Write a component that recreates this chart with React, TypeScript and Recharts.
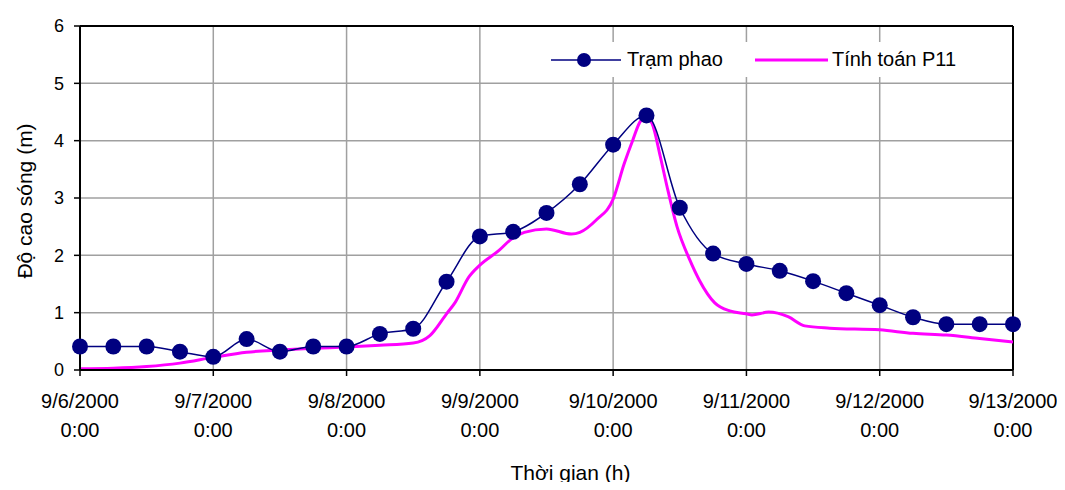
import {
  CartesianGrid,
  Label,
  Legend,
  Line,
  LineChart,
  ReferenceLine,
  XAxis,
  YAxis,
} from 'recharts'

// hours since 9/6/2000 0:00
const obsHours = [
  0, 6, 12, 18, 24, 30, 36, 42, 48, 54, 60, 66, 72, 78, 84, 90, 96, 102, 108, 114, 120, 126, 132, 138,
  144, 150, 156, 162, 168,
]
const obsHeights = [
  0.41, 0.41, 0.41, 0.32, 0.23, 0.54, 0.32, 0.41, 0.41, 0.63, 0.72, 1.54, 2.33, 2.41, 2.74, 3.24, 3.93,
  4.44, 2.83, 2.03, 1.85, 1.73, 1.55, 1.34, 1.13, 0.92, 0.8, 0.8, 0.8,
]

const calcHours = [
  0, 6, 12, 18, 24, 30, 36, 42, 48, 54, 60, 63, 66, 67.5, 70, 72, 75.5, 77.5, 80, 84, 88.5, 90, 93, 96,
  98, 99.5, 101, 102, 103, 104.5, 105.7, 107.5, 109.8, 111.5, 114.3, 117, 120, 121, 124, 127.5, 130.5,
  135, 144, 150, 156, 162, 168,
]
const calcHeights = [
  0.02, 0.03, 0.06, 0.12, 0.22, 0.31, 0.35, 0.38, 0.4, 0.43, 0.47, 0.6, 0.98, 1.17, 1.62, 1.83, 2.09,
  2.27, 2.4, 2.46, 2.37, 2.4, 2.62, 2.98, 3.6, 4.0, 4.35, 4.4, 4.3, 3.72, 3.2, 2.5, 1.92, 1.57, 1.17,
  1.03, 0.98, 0.96, 1.01, 0.93, 0.77, 0.73, 0.7, 0.64, 0.61, 0.55, 0.49,
]

const dayTicks = [0, 24, 48, 72, 96, 120, 144, 168]
const dayLabels = ['9/6/2000', '9/7/2000', '9/8/2000', '9/9/2000', '9/10/2000', '9/11/2000', '9/12/2000', '9/13/2000']
const timeLabel = '0:00'
const yTicks = [0, 1, 2, 3, 4, 5, 6]

const obsData = obsHours.map((h, i) => ({ h, v: obsHeights[i] }))
const calcData = calcHours.map((h, i) => ({ h, v: calcHeights[i] }))

const FONT = 'Arial, "Liberation Sans", sans-serif'
const NAVY = '#000080'
const MAGENTA = '#ff00ff'

function DayTick(props: any) {
  const { x, y, index } = props
  return (
    <g>
      <text x={x} y={y} dy={32} textAnchor="middle" fontSize={20} fontFamily={FONT} fill="#000">
        {dayLabels[index]}
      </text>
      <text x={x} y={y} dy={61} textAnchor="middle" fontSize={20} fontFamily={FONT} fill="#000">
        {timeLabel}
      </text>
    </g>
  )
}

function LegendBox() {
  return (
    <div
      style={{
        background: '#fff',
        height: 35,
        display: 'flex',
        alignItems: 'center',
        fontFamily: FONT,
        fontSize: 20,
        color: '#000',
        paddingLeft: 6,
        boxSizing: 'border-box',
      }}
    >
      <svg width={70} height={18}>
        <line x1={0} y1={9} x2={70} y2={9} stroke={NAVY} strokeWidth={1.5} />
        <circle cx={33} cy={9} r={7} fill={NAVY} />
      </svg>
      <span style={{ marginLeft: 6 }}>Trạm phao</span>
      <svg width={73} height={18} style={{ marginLeft: 32 }}>
        <line x1={0} y1={9} x2={73} y2={9} stroke={MAGENTA} strokeWidth={3} />
      </svg>
      <span style={{ marginLeft: 4 }}>Tính toán P11</span>
    </div>
  )
}

export default function App() {
  return (
    <div style={{ position: 'relative', width: 1065, height: 490, margin: -8, overflow: 'hidden', background: '#fff' }}>
      <LineChart width={1065} height={490} margin={{ top: 26, right: 52, bottom: 0, left: 20 }}>
        <CartesianGrid stroke="#a0a0a0" strokeWidth={1.5} />
        <XAxis
          dataKey="h"
          type="number"
          domain={[0, 168]}
          ticks={dayTicks}
          height={120}
          tickSize={6}
          tickMargin={0}
          tick={<DayTick />}
          axisLine={{ stroke: '#000', strokeWidth: 2 }}
          tickLine={{ stroke: '#000', strokeWidth: 1.5 }}
          allowDuplicatedCategory={false}
        >
          <Label
            content={(p: any) => {
              const vb = p.viewBox
              return (
                <text
                  x={vb.x + vb.width / 2 + 24}
                  y={480}
                  textAnchor="middle"
                  fontSize={21}
                  fontFamily={FONT}
                  fill="#000"
                >
                  Thời gian (h)
                </text>
              )
            }}
          />
        </XAxis>
        <YAxis
          domain={[0, 6]}
          ticks={yTicks}
          width={60}
          tickSize={6}
          tickMargin={10}
          tick={{ fill: '#000', fontSize: 18, fontFamily: FONT }}
          axisLine={{ stroke: '#000', strokeWidth: 2 }}
          tickLine={{ stroke: '#000', strokeWidth: 1.5 }}
        >
          <Label
            content={(p: any) => {
              const vb = p.viewBox
              const cy = vb.y + vb.height / 2 + 3
              return (
                <g>
                  {/* outer chart frame, open past the bottom edge */}
                  <path d="M7 495 V5 H1061 V495" fill="none" stroke="#000" strokeWidth={2} />
                  <text
                    x={24}
                    y={cy}
                    transform={`rotate(-90 24 ${cy})`}
                    textAnchor="middle"
                    dominantBaseline="central"
                    fontSize={21}
                    fontFamily={FONT}
                    fill="#000"
                  >
                    Độ cao sóng (m)
                  </text>
                </g>
              )
            }}
          />
        </YAxis>
        <ReferenceLine y={6} stroke="#000" strokeWidth={2} />
        <ReferenceLine x={168} stroke="#000" strokeWidth={2} />
        <Line
          data={calcData}
          dataKey="v"
          name="Tính toán P11"
          type="monotone"
          stroke={MAGENTA}
          strokeWidth={3}
          dot={false}
          activeDot={false}
          isAnimationActive={false}
        />
        <Line
          data={obsData}
          dataKey="v"
          name="Trạm phao"
          type="monotone"
          stroke={NAVY}
          strokeWidth={1.5}
          dot={{ r: 8, fill: NAVY, stroke: NAVY, strokeWidth: 0 }}
          activeDot={false}
          isAnimationActive={false}
        />
        <Legend
          layout="vertical"
          verticalAlign="middle"
          align="center"
          content={() => <LegendBox />}
          wrapperStyle={{ position: 'absolute', left: 545, top: 42, width: 450, height: 35 }}
        />
      </LineChart>
    </div>
  )
}
